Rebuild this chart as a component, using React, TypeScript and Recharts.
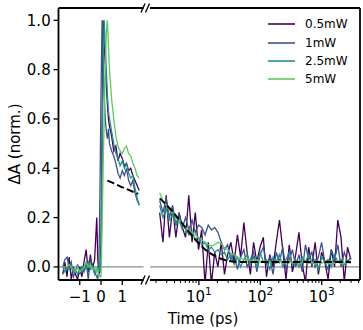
import React from 'react';
import { LineChart, Line, XAxis, YAxis, ReferenceLine, Legend } from 'recharts';

const FONT = '"DejaVu Sans", sans-serif';
const W = 363;
const H = 330;

// series (legend order)
const SERIES = [
  { key: 'p05', name: '0.5mW', color: '#440154' },
  { key: 'p1', name: '1mW', color: '#3b528b' },
  { key: 'p25', name: '2.5mW', color: '#21918c' },
  { key: 'p5', name: '5mW', color: '#5ec962' },
];
const SERIES_NAMES = SERIES.map(s => s.name);

// early delays, linear panel (ps)
const earlyTime = [
  -1.8, -1.7, -1.6, -1.5, -1.4, -1.3, -1.2, -1.1, -1.0, -0.9, -0.8, -0.7, -0.6, -0.5, -0.4, -0.3, -0.2, -0.15, -0.1, -0.05,
  0, 0.05, 0.1, 0.15, 0.2, 0.25, 0.3, 0.35, 0.4,
  0.5, 0.6, 0.7, 0.8, 0.9, 1.0, 1.1, 1.2, 1.3, 1.4, 1.5, 1.6, 1.7, 1.8,
];
const early05 = [
  -0.03, 0.02, -0.04, 0.04, -0.05, 0.0, -0.03, -0.05, 0.0, -0.04, 0.02, 0.07, -0.02, 0.05, -0.01, 0.03, 0.2, 0.03, -0.03, -0.02,
  0.1, 0.55, 1.0, 0.92, 0.82, 0.74, 0.66, 0.6, 0.57,
  0.53, 0.47, 0.49, 0.43, 0.46, 0.44, 0.41, 0.42, 0.39, 0.4, 0.37, 0.35, 0.33, 0.31,
];
const early1 = [
  0.0, 0.03, 0.04, 0.0, 0.02, -0.04, -0.02, 0.01, -0.03, 0.0, -0.02, 0.02, -0.05, 0.03, 0.01, -0.02, -0.04, -0.05, 0.0, 0.3,
  0.7, 1.0, 0.85, 0.7, 0.6, 0.55, 0.52, 0.56, 0.5,
  0.47, 0.45, 0.42, 0.38, 0.36, 0.39, 0.37, 0.4, 0.35, 0.33, 0.35, 0.3, 0.27, 0.25,
];
const early25 = [
  0.0, -0.02, 0.0, -0.01, 0.0, -0.02, -0.01, -0.03, -0.01, -0.02, 0.0, -0.01, 0.02, -0.01, 0.0, -0.03, -0.01, 0.0, -0.02, 0.0,
  0.05, 0.4, 0.8, 1.0, 0.9, 0.8, 0.7, 0.63, 0.6,
  0.55, 0.5, 0.46, 0.44, 0.41, 0.43, 0.4, 0.42, 0.38, 0.36, 0.37, 0.32, 0.28, 0.25,
];
const early5 = [
  0.0, 0.0, 0.0, 0.01, 0.0, -0.01, -0.02, 0.0, -0.02, -0.01, 0.0, 0.02, 0.0, 0.01, -0.01, 0.0, -0.02, -0.01, -0.03, -0.04,
  -0.04, 0.15, 0.4, 0.6, 0.8, 0.95, 1.0, 0.9, 0.8,
  0.68, 0.6, 0.53, 0.49, 0.47, 0.46, 0.48, 0.49, 0.46, 0.45, 0.42, 0.4, 0.37, 0.36,
];
const earlyFitTime = [0.3, 0.6, 0.9, 1.2, 1.5, 1.75];
const earlyFit = [0.35, 0.339, 0.327, 0.316, 0.305, 0.296];

// late delays, log panel (ps)
const lateTime = [
  2.3, 2.6, 2.93, 3.31, 3.74, 4.22, 4.76, 5.38, 6.07, 6.85, 7.74, 8.74, 9.87, 11.1, 12.6, 14.2, 16.0, 18.1, 20.4, 23.1,
  26.1, 29.4, 33.2, 37.5, 42.4, 47.8, 54.0, 61.0, 68.9, 77.8, 87.8, 99.1, 112, 126, 143, 161, 182, 205, 232, 262,
  296, 334, 377, 426, 481, 543, 613, 692, 781, 882, 996, 1124, 1269, 1433, 1618, 1827, 2063, 2329, 2630, 2980,
];
const late05 = [
  0.22, 0.1, 0.29, 0.12, 0.24, 0.12, 0.22, 0.16, 0.12, 0.29, 0.1, 0.22, 0.07, 0.15, -0.07, 0.1, -0.07, 0.06, 0.0, 0.1,
  -0.03, 0.05, 0.1, 0.02, 0.13, 0.04, 0.18, 0.06, -0.03, 0.1, 0.02, 0.08, 0.12, -0.04, 0.05, 0.0, 0.1, 0.19, 0.07, -0.05,
  0.09, -0.02, 0.05, 0.14, 0.01, -0.06, 0.08, 0.0, 0.1, -0.03, 0.06, 0.02, -0.05, 0.07, 0.0, 0.19, 0.12, -0.06, 0.08, 0.03,
];
const late1 = [
  0.27, 0.22, 0.28, 0.2, 0.25, 0.17, 0.22, 0.16, 0.2, 0.15, 0.19, 0.14, 0.17, 0.16, 0.13, 0.17, 0.15, 0.16, 0.14, 0.1,
  0.07, 0.09, 0.03, 0.05, -0.01, 0.04, 0.07, 0.0, 0.03, 0.06, -0.02, 0.05, 0.08, 0.01, 0.04, -0.03, 0.06, 0.02, 0.08, -0.01,
  0.03, 0.07, 0.0, 0.05, -0.02, 0.09, 0.03, 0.06, 0.0, 0.04, 0.1, 0.02, -0.01, 0.07, 0.03, 0.09, 0.0, 0.06, 0.02, 0.04,
];
const late25 = [
  0.25, 0.2, 0.24, 0.19, 0.21, 0.17, 0.19, 0.15, 0.16, 0.13, 0.14, 0.11, 0.12, 0.09, 0.1, 0.07, 0.08, 0.06, 0.07, 0.05,
  0.06, 0.03, 0.05, 0.01, 0.04, 0.0, 0.03, 0.05, 0.01, 0.04, 0.0, 0.06, 0.02, 0.03, -0.01, 0.04, 0.02, 0.05, 0.0, 0.03,
  0.06, 0.01, 0.03, 0.0, 0.04, 0.02, 0.05, 0.01, 0.03, -0.01, 0.04, 0.02, 0.03, 0.0, 0.05, 0.02, 0.03, 0.01, 0.02, 0.02,
];
const late5 = [
  0.3, 0.27, 0.25, 0.23, 0.22, 0.2, 0.19, 0.17, 0.16, 0.15, 0.14, 0.13, 0.12, 0.11, 0.1, 0.09, 0.085, 0.09, 0.1, 0.095,
  0.075, 0.07, 0.055, 0.05, 0.04, 0.035, 0.03, 0.032, 0.028, 0.025, 0.03, 0.022, 0.02, 0.025, 0.018, 0.02, 0.015, 0.022, 0.02, 0.018,
  0.025, 0.015, 0.02, 0.012, 0.018, 0.022, 0.015, 0.02, 0.01, 0.018, 0.015, 0.022, 0.012, 0.018, 0.015, 0.02, 0.012, 0.015, 0.018, 0.014,
];
const lateFitTime = [2.3, 3, 4, 5, 6.5, 8, 10, 12.5, 15, 20, 25, 30, 40, 60, 3000];
const lateFit = [0.278, 0.25, 0.215, 0.185, 0.15, 0.122, 0.095, 0.072, 0.057, 0.039, 0.03, 0.025, 0.021, 0.02, 0.02];

// axes
const yTicks = [0, 0.2, 0.4, 0.6, 0.8, 1.0];
const earlyTicks = [-1, 0, 1];
const logMajor = [10, 100, 1000];
const logTicks = [
  2, 3, 4, 5, 6, 7, 8, 9, 10, 20, 30, 40, 50, 60, 70, 80, 90, 100,
  200, 300, 400, 500, 600, 700, 800, 900, 1000, 2000, 3000, 4000,
];
const EARLY_DOMAIN: [number, number] = [-2, 2];
const LATE_DOMAIN: [number, number] = [1.6, 4200];
const Y_DOMAIN: [number, number] = [-0.053, 1.05];

const earlyRows = earlyTime.map((t, i) => ({ t, p05: early05[i], p1: early1[i], p25: early25[i], p5: early5[i] }));
const lateRows = lateTime.map((t, i) => ({ t, p05: late05[i], p1: late1[i], p25: late25[i], p5: late5[i] }));
const earlyFitRows = earlyFitTime.map((t, i) => ({ t, fit: earlyFit[i] }));
const lateFitRows = lateFitTime.map((t, i) => ({ t, fit: lateFit[i] }));

const SPINE = { stroke: '#000', strokeWidth: 1.8, ifOverflow: 'visible' as const };

const EarlyTick = ({ x, y, payload }: any) => {
  const v = payload.value;
  return (
    <g>
      <line x1={x} x2={x} y1={y} y2={y + 5} stroke="#000" strokeWidth={1.3} />
      <text x={x} y={y + 21.7} textAnchor="middle" fontSize={15} fontFamily={FONT} fill="#000">
        {v < 0 ? `\u2212${-v}` : `${v}`}
      </text>
    </g>
  );
};

const LogTick = ({ x, y, payload }: any) => {
  const v = payload.value;
  const major = logMajor.includes(v);
  return (
    <g>
      <line x1={x} x2={x} y1={y} y2={y + (major ? 5 : 3)} stroke="#000" strokeWidth={major ? 1.3 : 1} />
      {major && (
        <text x={x} y={y + 21.7} textAnchor="middle" fontSize={15} fontFamily={FONT} fill="#000">
          10<tspan dy={-6.7} fontSize={10.5}>{Math.round(Math.log10(v))}</tspan>
        </text>
      )}
    </g>
  );
};

const YTick = ({ x, y, payload }: any) => (
  <g>
    <line x1={x - 5} x2={x} y1={y} y2={y} stroke="#000" strokeWidth={1.3} />
    <text x={x - 7.8} y={y + 5.3} textAnchor="end" fontSize={15} fontFamily={FONT} fill="#000">
      {payload.value.toFixed(1)}
    </text>
  </g>
);

const YLabel = ({ viewBox }: any) => {
  const x = viewBox.x + 20;
  const y = viewBox.y + viewBox.height / 2;
  return (
    <text x={x} y={y} transform={`rotate(-90, ${x}, ${y})`} textAnchor="middle" fontSize={15} fontFamily={FONT} fill="#000">
      ΔA (norm.)
    </text>
  );
};

const XLabel = ({ viewBox }: any) => (
  <text x={viewBox.x + 53} y={viewBox.y + 44} textAnchor="middle" fontSize={15} fontFamily={FONT} fill="#000">
    Time (ps)
  </text>
);

const LegendBox = ({ payload }: any) => (
  <div style={{ fontFamily: FONT, fontSize: 12, color: '#000' }}>
    {(payload || [])
      .filter((p: any) => SERIES_NAMES.includes(p.value))
      .map((p: any) => (
        <div key={p.value} style={{ display: 'flex', alignItems: 'center', height: 18.4 }}>
          <svg width={27} height={4} style={{ display: 'block' }}>
            <line x1={0} x2={27} y1={2} y2={2} stroke={p.color} strokeWidth={1.6} />
          </svg>
          <span style={{ marginLeft: 10, lineHeight: '18px' }}>{p.value}</span>
        </div>
      ))}
  </div>
);

const seriesLines = () =>
  SERIES.map(s => (
    <Line
      key={s.key}
      type="linear"
      dataKey={s.key}
      name={s.name}
      stroke={s.color}
      strokeWidth={1.3}
      dot={false}
      activeDot={false}
      isAnimationActive={false}
    />
  ));

const fitLine = (rows: { t: number; fit: number }[]) => (
  <Line
    data={rows}
    dataKey="fit"
    name="fit"
    type="monotone"
    stroke="#000"
    strokeWidth={2}
    strokeDasharray="7.4 3.2"
    dot={false}
    activeDot={false}
    legendType="none"
    isAnimationActive={false}
  />
);

export default function App() {
  const box: React.CSSProperties = { position: 'absolute', left: 0, top: 0 };
  return (
    <div style={{ position: 'absolute', left: 0, top: 0, width: W, height: H, background: '#fff' }}>
      {/* linear panel */}
      <div style={box}>
        <LineChart width={W} height={H} data={earlyRows} margin={{ top: 8, right: W - 143.5, bottom: 0, left: 0 }}>
          <XAxis
            dataKey="t"
            type="number"
            domain={EARLY_DOMAIN}
            allowDataOverflow
            ticks={earlyTicks}
            interval={0}
            height={50}
            tickSize={0}
            tickMargin={0}
            axisLine={false}
            tickLine={false}
            tick={<EarlyTick />}
          />
          <YAxis
            type="number"
            domain={Y_DOMAIN}
            allowDataOverflow
            ticks={yTicks}
            interval={0}
            width={58.5}
            tickSize={0}
            tickMargin={0}
            axisLine={false}
            tickLine={false}
            tick={<YTick />}
            label={{ content: YLabel }}
          />
          <ReferenceLine y={0} stroke="#8c8c8c" strokeWidth={1.2} />
          {seriesLines()}
          {fitLine(earlyFitRows)}
          <ReferenceLine x={EARLY_DOMAIN[0]} {...SPINE} />
          <ReferenceLine y={Y_DOMAIN[0]} {...SPINE} />
          <ReferenceLine y={Y_DOMAIN[1]} {...SPINE} />
        </LineChart>
      </div>
      {/* log panel */}
      <div style={box}>
        <LineChart width={W} height={H} data={lateRows} margin={{ top: 8, right: 3, bottom: 0, left: 150 }}>
          <XAxis
            dataKey="t"
            type="number"
            scale="log"
            domain={LATE_DOMAIN}
            allowDataOverflow
            ticks={logTicks}
            interval={0}
            height={50}
            tickSize={0}
            tickMargin={0}
            axisLine={false}
            tickLine={false}
            tick={<LogTick />}
            label={{ content: XLabel }}
          />
          <YAxis orientation="right" type="number" domain={Y_DOMAIN} allowDataOverflow width={0} tick={false} tickLine={false} axisLine={false} />
          <ReferenceLine y={0} stroke="#8c8c8c" strokeWidth={1.2} />
          {seriesLines()}
          {fitLine(lateFitRows)}
          <ReferenceLine x={LATE_DOMAIN[1]} {...SPINE} />
          <ReferenceLine y={Y_DOMAIN[0]} {...SPINE} />
          <ReferenceLine y={Y_DOMAIN[1]} {...SPINE} />
          <Legend
            layout="vertical"
            align="center"
            verticalAlign="middle"
            content={<LegendBox />}
            wrapperStyle={{ position: 'absolute', top: 15, left: 268, width: 90 }}
          />
        </LineChart>
      </div>
      {/* axis-break marks */}
      <svg width={W} height={H} style={{ ...box, pointerEvents: 'none' }}>
        {[8, 280].map(y => (
          <g key={y} stroke="#000" strokeWidth={1.3}>
            <line x1={141} y1={y + 4.5} x2={145} y2={y - 4.5} />
            <line x1={145.5} y1={y + 4.5} x2={149.5} y2={y - 4.5} />
          </g>
        ))}
      </svg>
    </div>
  );
}
